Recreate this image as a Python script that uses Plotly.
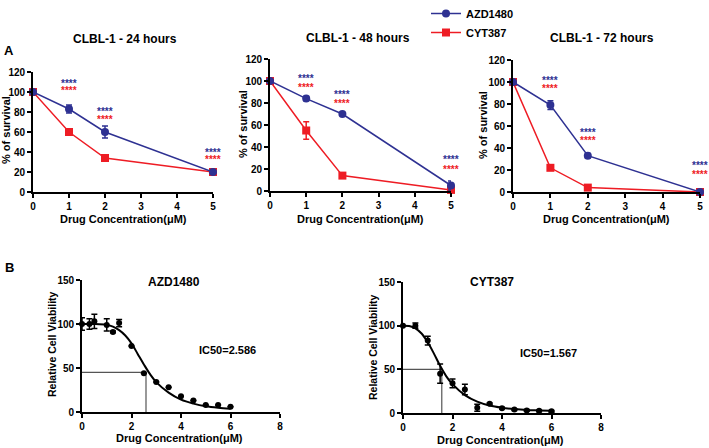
import plotly.graph_objects as go

W, H = 709, 448
FONT = "Arial, Liberation Sans, Helvetica, sans-serif"
BLUE = "#2E3192"
RED = "#EE1C24"

# ---------------- Panel A data ----------------
dose_A = [0, 1, 2, 5]
azd_24 = [100, 83, 60, 20]
azd_24_err = [0, 4, 6, 1]
cyt_24 = [100, 60, 34, 20]
cyt_24_err = [0, 1, 1, 1]
azd_48 = [100, 84, 70, 5]
azd_48_err = [0, 2, 1, 4]
cyt_48 = [100, 55, 14, 1]
cyt_48_err = [0, 8, 2, 1]
azd_72 = [100, 79, 33, 0]
azd_72_err = [0, 4, 2, 0]
cyt_72 = [100, 22, 4, 0]
cyt_72_err = [0, 2, 2, 0]

star_x = [1, 2, 5]
stars_24_blue = [109, 81, 40]
stars_24_red = [102, 73, 33]
stars_48_blue = [102, 88, 29]
stars_48_red = [94.5, 80, 20]
stars_72_blue = [101, 54.5, 24]
stars_72_red = [94, 47, 16]

titles_A = ["CLBL-1 - 24 hours", "CLBL-1 - 48 hours", "CLBL-1 - 72 hours"]

# ---------------- Panel B data ----------------
dose_B1 = [0, 0.3, 0.5, 1, 1.25, 1.5, 2, 2.5, 3, 3.5, 4, 4.5, 5, 5.5, 6]
via_B1 = [100, 100, 103, 99, 91, 101, 75, 44, 34, 28, 18, 13, 8, 8, 6]
err_B1 = [7, 6, 8, 7, 1, 4, 0, 0, 0, 0, 0, 0, 0, 0, 0]
fit_x_B1 = [0, 0.5, 1, 1.25, 1.5, 1.75, 2, 2.25, 2.5, 2.75, 3, 3.5, 4, 4.5, 5, 5.5, 6]
fit_y_B1 = [100, 100, 99, 97, 93, 87, 78, 66, 54, 43, 34, 22, 14, 9.5, 6.5, 4.8, 3.8]
ic50_B1 = 2.586
level_B1 = 45

dose_B2 = [0, 0.5, 1, 1.5, 2, 2.5, 3, 3.5, 4, 4.5, 5, 5.5, 6]
via_B2 = [100, 100, 83, 45, 34, 27, 6, 10.5, 5.5, 4, 3, 2.5, 2]
err_B2 = [0, 3, 5, 11, 5, 6, 4, 1, 1, 1, 1, 1, 1]
fit_x_B2 = [0, 0.25, 0.5, 0.75, 1, 1.25, 1.5, 1.75, 2, 2.5, 3, 3.5, 4, 4.5, 5, 5.5, 6]
fit_y_B2 = [100, 99.5, 97, 91, 81, 68, 54, 42, 33, 20.5, 13, 8.5, 6, 4.5, 3.5, 3, 2.5]
ic50_B2 = 1.567
level_B2 = 50


def px(x):
    return x / W


def py(y):
    return 1 - y / H


fig = go.Figure()

A_sets = [
    (azd_24, azd_24_err, cyt_24, cyt_24_err, stars_24_blue, stars_24_red),
    (azd_48, azd_48_err, cyt_48, cyt_48_err, stars_48_blue, stars_48_red),
    (azd_72, azd_72_err, cyt_72, cyt_72_err, stars_72_blue, stars_72_red),
]

annotations = []
for i, (azd, azd_e, cyt, cyt_e, sb, sr) in enumerate(A_sets):
    xa = "x" if i == 0 else f"x{i+1}"
    ya = "y" if i == 0 else f"y{i+1}"
    fig.add_trace(go.Scatter(
        x=dose_A, y=cyt, xaxis=xa, yaxis=ya, mode="lines+markers",
        name="<b>CYT387</b>", legendrank=2, showlegend=(i == 0),
        line=dict(color=RED, width=1.5),
        marker=dict(symbol="square", size=8, color=RED),
        error_y=dict(type="data", array=cyt_e, color=RED, thickness=1.5, width=3),
        cliponaxis=False))
    fig.add_trace(go.Scatter(
        x=dose_A, y=azd, xaxis=xa, yaxis=ya, mode="lines+markers",
        name="<b>AZD1480</b>", legendrank=1, showlegend=(i == 0),
        line=dict(color=BLUE, width=1.5),
        marker=dict(symbol="circle", size=8, color=BLUE),
        error_y=dict(type="data", array=azd_e, color=BLUE, thickness=1.5, width=3),
        cliponaxis=False))
    for sx, yb, yr in zip(star_x, sb, sr):
        annotations.append(dict(x=sx, y=yb, xref=xa, yref=ya, text="****", showarrow=False,
                                font=dict(size=10, color=BLUE, family=FONT, weight="bold")))
        annotations.append(dict(x=sx, y=yr, xref=xa, yref=ya, text="****", showarrow=False,
                                font=dict(size=10, color=RED, family=FONT, weight="bold")))

B_sets = [
    (dose_B1, via_B1, err_B1, fit_x_B1, fit_y_B1, ic50_B1, level_B1, "x4", "y4"),
    (dose_B2, via_B2, err_B2, fit_x_B2, fit_y_B2, ic50_B2, level_B2, "x5", "y5"),
]
for d, v, e, fx, fy, ic, lv, xa, ya in B_sets:
    fig.add_trace(go.Scatter(x=[0, ic, ic], y=[lv, lv, 0], xaxis=xa, yaxis=ya, mode="lines",
                             line=dict(color="#555555", width=1.2), showlegend=False))
    fig.add_trace(go.Scatter(x=fx, y=fy, xaxis=xa, yaxis=ya, mode="lines",
                             line=dict(color="black", width=2, shape="spline"), showlegend=False))
    fig.add_trace(go.Scatter(x=d, y=v, xaxis=xa, yaxis=ya, mode="markers",
                             marker=dict(color="black", size=6),
                             error_y=dict(type="data", array=e, color="black", thickness=1.5, width=3),
                             showlegend=False, cliponaxis=False))

tickfont = dict(family=FONT, size=10, color="black", weight="bold")
common = dict(showline=True, linecolor="black", linewidth=1.7, ticks="outside", ticklen=4,
              tickwidth=1.5, tickcolor="black", showgrid=False, zeroline=False,
              tickfont=tickfont, fixedrange=True, automargin=False)

# domains from pixel positions
A_dom = [((33, 213), (72, 192)), ((270, 451), (59, 191)), ((513, 700), (60, 192))]
B_dom = [((82, 280), (280, 412)), ((403, 601), (282, 413))]

layout = dict(width=W, height=H, margin=dict(l=0, r=0, t=0, b=0, autoexpand=False),
              plot_bgcolor="white", paper_bgcolor="white",
              font=dict(family=FONT, color="black"))
for i, ((x0, x1), (y0, y1)) in enumerate(A_dom):
    n = "" if i == 0 else str(i + 1)
    layout[f"xaxis{n}"] = dict(domain=[px(x0), px(x1)], range=[0, 5], tickvals=[0, 1, 2, 3, 4, 5],
                               anchor=f"y{n}", **common)
    layout[f"yaxis{n}"] = dict(domain=[py(y1), py(y0)], range=[0, 120],
                               tickvals=[0, 20, 40, 60, 80, 100, 120], anchor=f"x{n}", **common)
for j, ((x0, x1), (y0, y1)) in enumerate(B_dom):
    n = str(j + 4)
    layout[f"xaxis{n}"] = dict(domain=[px(x0), px(x1)], range=[0, 8], tickvals=[0, 2, 4, 6, 8],
                               anchor=f"y{n}", **common)
    layout[f"yaxis{n}"] = dict(domain=[py(y1), py(y0)], range=[0, 150],
                               tickvals=[0, 50, 100, 150], anchor=f"x{n}", **common)


def label(x, y, text, size, angle=0, anchor="center"):
    annotations.append(dict(x=px(x), y=py(y), xref="paper", yref="paper", text=text,
                            showarrow=False, textangle=angle, xanchor=anchor, yanchor="middle",
                            font=dict(family=FONT, size=size, color="black", weight="bold")))


# Panel A texts
for t, (cx, cy) in zip(titles_A, [(125, 39), (358, 38), (602, 38)]):
    label(cx, cy, t, 12)
for cx, cy in [(6, 130), (243, 124), (483, 125)]:
    label(cx, cy, "% of survival", 11, angle=-90)
for cx in [123, 360, 606]:
    label(cx, 219, "Drug Concentration(μM)", 11)
label(9, 50, "A", 13)

# Panel B texts
label(9, 267, "B", 13)
label(174, 282, "AZD1480", 12)
label(492, 282, "CYT387", 12)
label(227, 350, "IC50=2.586", 11)
label(548, 353, "IC50=1.567", 11)
label(52, 344, "Relative Cell Viability", 10.5, angle=-90)
label(373, 347, "Relative Cell Viability", 10.5, angle=-90)
label(179, 438, "Drug Concentration(μM)", 11)
label(500, 440, "Drug Concentration(μM)", 11)

layout["annotations"] = annotations
layout["legend"] = dict(x=px(426), y=py(-1), xanchor="left", yanchor="top",
                        font=dict(family=FONT, size=11, color="black"),
                        bgcolor="rgba(0,0,0,0)", itemwidth=30, tracegroupgap=0,
                        traceorder="normal")
fig.update_layout(**layout)
fig.write_html("out.html", config={"displayModeBar": False},
               post_script="document.body.style.margin='0';document.body.style.overflow='hidden';")
